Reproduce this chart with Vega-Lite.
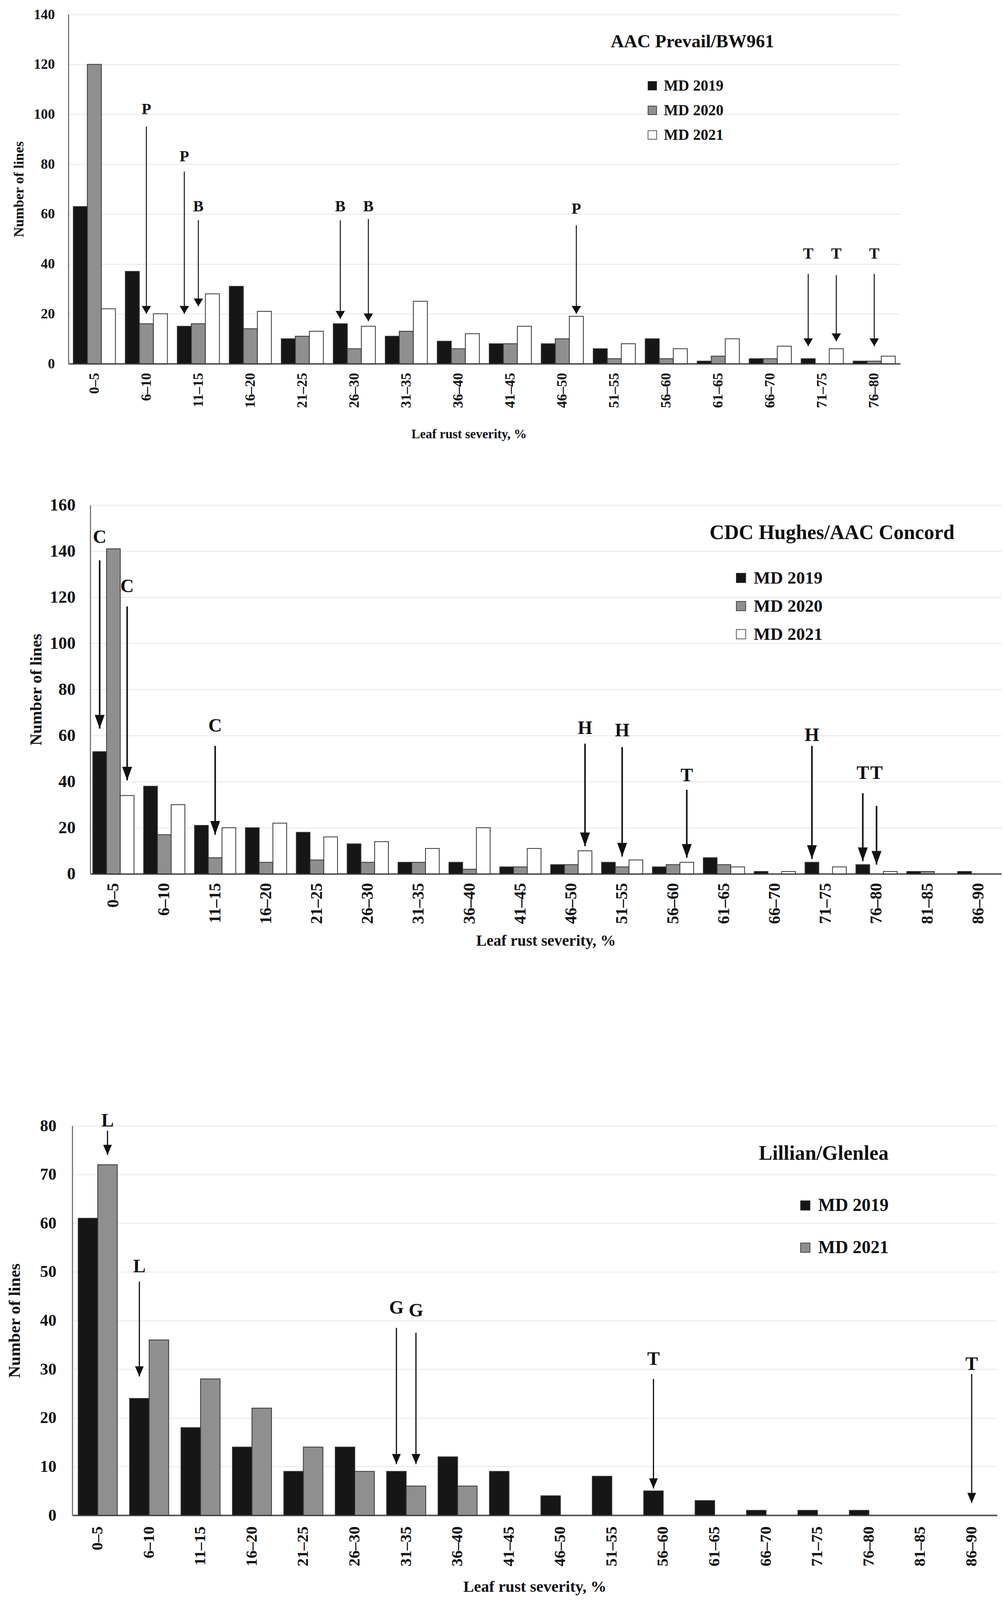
{
  "$schema": "https://vega.github.io/schema/vega-lite/v6.json",
  "background": "white",
  "padding": {"left": 15, "top": 18, "right": 5, "bottom": 5},
  "config": {
    "font": "Liberation Serif",
    "view": {"stroke": "transparent"},
    "axis": {"labelFontWeight": "bold", "titleFontWeight": "bold", "labelColor": "#111", "titleColor": "#111", "ticks": false, "gridColor": "#e6e6e6", "gridWidth": 2, "domainColor": "#777", "domainWidth": 3},
    "axisX": {"grid": false, "labelAngle": 270},
    "legend": {"labelFontWeight": "bold", "labelColor": "#111", "symbolType": "square", "symbolStrokeColor": "#222", "symbolStrokeWidth": 1.5, "labelOffset": 10, "labelLimit": 600}
  },
  "datasets": {
    "p1": [
      {"bin": "0–5", "series": "MD 2019", "count": 63}, {"bin": "0–5", "series": "MD 2020", "count": 120}, {"bin": "0–5", "series": "MD 2021", "count": 22},
      {"bin": "6–10", "series": "MD 2019", "count": 37}, {"bin": "6–10", "series": "MD 2020", "count": 16}, {"bin": "6–10", "series": "MD 2021", "count": 20},
      {"bin": "11–15", "series": "MD 2019", "count": 15}, {"bin": "11–15", "series": "MD 2020", "count": 16}, {"bin": "11–15", "series": "MD 2021", "count": 28},
      {"bin": "16–20", "series": "MD 2019", "count": 31}, {"bin": "16–20", "series": "MD 2020", "count": 14}, {"bin": "16–20", "series": "MD 2021", "count": 21},
      {"bin": "21–25", "series": "MD 2019", "count": 10}, {"bin": "21–25", "series": "MD 2020", "count": 11}, {"bin": "21–25", "series": "MD 2021", "count": 13},
      {"bin": "26–30", "series": "MD 2019", "count": 16}, {"bin": "26–30", "series": "MD 2020", "count": 6}, {"bin": "26–30", "series": "MD 2021", "count": 15},
      {"bin": "31–35", "series": "MD 2019", "count": 11}, {"bin": "31–35", "series": "MD 2020", "count": 13}, {"bin": "31–35", "series": "MD 2021", "count": 25},
      {"bin": "36–40", "series": "MD 2019", "count": 9}, {"bin": "36–40", "series": "MD 2020", "count": 6}, {"bin": "36–40", "series": "MD 2021", "count": 12},
      {"bin": "41–45", "series": "MD 2019", "count": 8}, {"bin": "41–45", "series": "MD 2020", "count": 8}, {"bin": "41–45", "series": "MD 2021", "count": 15},
      {"bin": "46–50", "series": "MD 2019", "count": 8}, {"bin": "46–50", "series": "MD 2020", "count": 10}, {"bin": "46–50", "series": "MD 2021", "count": 19},
      {"bin": "51–55", "series": "MD 2019", "count": 6}, {"bin": "51–55", "series": "MD 2020", "count": 2}, {"bin": "51–55", "series": "MD 2021", "count": 8},
      {"bin": "56–60", "series": "MD 2019", "count": 10}, {"bin": "56–60", "series": "MD 2020", "count": 2}, {"bin": "56–60", "series": "MD 2021", "count": 6},
      {"bin": "61–65", "series": "MD 2019", "count": 1}, {"bin": "61–65", "series": "MD 2020", "count": 3}, {"bin": "61–65", "series": "MD 2021", "count": 10},
      {"bin": "66–70", "series": "MD 2019", "count": 2}, {"bin": "66–70", "series": "MD 2020", "count": 2}, {"bin": "66–70", "series": "MD 2021", "count": 7},
      {"bin": "71–75", "series": "MD 2019", "count": 2}, {"bin": "71–75", "series": "MD 2021", "count": 6},
      {"bin": "76–80", "series": "MD 2019", "count": 1}, {"bin": "76–80", "series": "MD 2020", "count": 1}, {"bin": "76–80", "series": "MD 2021", "count": 3}
    ],
    "p1ann": [
      {"bin": "6–10", "series": "MD 2020", "top": 95, "tip": 20, "ly": 102, "label": "P"},
      {"bin": "11–15", "series": "MD 2019", "top": 77, "tip": 20, "ly": 83, "label": "P"},
      {"bin": "11–15", "series": "MD 2020", "top": 57.5, "tip": 23, "ly": 63, "label": "B"},
      {"bin": "26–30", "series": "MD 2019", "top": 57.5, "tip": 18, "ly": 63, "label": "B"},
      {"bin": "26–30", "series": "MD 2021", "top": 58, "tip": 17, "ly": 63, "label": "B"},
      {"bin": "46–50", "series": "MD 2021", "top": 55.5, "tip": 20, "ly": 62, "label": "P"},
      {"bin": "71–75", "series": "MD 2019", "top": 36, "tip": 7, "ly": 44, "label": "T"},
      {"bin": "71–75", "series": "MD 2021", "top": 35.5, "tip": 9, "ly": 44, "label": "T"},
      {"bin": "76–80", "series": "MD 2020", "top": 36, "tip": 7, "ly": 44, "label": "T"}
    ],
    "p2": [
      {"bin": "0–5", "series": "MD 2019", "count": 53}, {"bin": "0–5", "series": "MD 2020", "count": 141}, {"bin": "0–5", "series": "MD 2021", "count": 34},
      {"bin": "6–10", "series": "MD 2019", "count": 38}, {"bin": "6–10", "series": "MD 2020", "count": 17}, {"bin": "6–10", "series": "MD 2021", "count": 30},
      {"bin": "11–15", "series": "MD 2019", "count": 21}, {"bin": "11–15", "series": "MD 2020", "count": 7}, {"bin": "11–15", "series": "MD 2021", "count": 20},
      {"bin": "16–20", "series": "MD 2019", "count": 20}, {"bin": "16–20", "series": "MD 2020", "count": 5}, {"bin": "16–20", "series": "MD 2021", "count": 22},
      {"bin": "21–25", "series": "MD 2019", "count": 18}, {"bin": "21–25", "series": "MD 2020", "count": 6}, {"bin": "21–25", "series": "MD 2021", "count": 16},
      {"bin": "26–30", "series": "MD 2019", "count": 13}, {"bin": "26–30", "series": "MD 2020", "count": 5}, {"bin": "26–30", "series": "MD 2021", "count": 14},
      {"bin": "31–35", "series": "MD 2019", "count": 5}, {"bin": "31–35", "series": "MD 2020", "count": 5}, {"bin": "31–35", "series": "MD 2021", "count": 11},
      {"bin": "36–40", "series": "MD 2019", "count": 5}, {"bin": "36–40", "series": "MD 2020", "count": 2}, {"bin": "36–40", "series": "MD 2021", "count": 20},
      {"bin": "41–45", "series": "MD 2019", "count": 3}, {"bin": "41–45", "series": "MD 2020", "count": 3}, {"bin": "41–45", "series": "MD 2021", "count": 11},
      {"bin": "46–50", "series": "MD 2019", "count": 4}, {"bin": "46–50", "series": "MD 2020", "count": 4}, {"bin": "46–50", "series": "MD 2021", "count": 10},
      {"bin": "51–55", "series": "MD 2019", "count": 5}, {"bin": "51–55", "series": "MD 2020", "count": 3}, {"bin": "51–55", "series": "MD 2021", "count": 6},
      {"bin": "56–60", "series": "MD 2019", "count": 3}, {"bin": "56–60", "series": "MD 2020", "count": 4}, {"bin": "56–60", "series": "MD 2021", "count": 5},
      {"bin": "61–65", "series": "MD 2019", "count": 7}, {"bin": "61–65", "series": "MD 2020", "count": 4}, {"bin": "61–65", "series": "MD 2021", "count": 3},
      {"bin": "66–70", "series": "MD 2019", "count": 1}, {"bin": "66–70", "series": "MD 2021", "count": 1},
      {"bin": "71–75", "series": "MD 2019", "count": 5}, {"bin": "71–75", "series": "MD 2021", "count": 3},
      {"bin": "76–80", "series": "MD 2019", "count": 4}, {"bin": "76–80", "series": "MD 2021", "count": 1},
      {"bin": "81–85", "series": "MD 2019", "count": 1}, {"bin": "81–85", "series": "MD 2020", "count": 1},
      {"bin": "86–90", "series": "MD 2019", "count": 1}
    ],
    "p2ann": [
      {"bin": "0–5", "series": "MD 2019", "top": 136, "tip": 63, "ly": 146, "label": "C"},
      {"bin": "0–5", "series": "MD 2021", "top": 116, "tip": 40.5, "ly": 124.5, "label": "C"},
      {"bin": "11–15", "series": "MD 2020", "top": 55.5, "tip": 17, "ly": 64, "label": "C"},
      {"bin": "46–50", "series": "MD 2021", "top": 56.5, "tip": 12, "ly": 63, "label": "H"},
      {"bin": "51–55", "series": "MD 2020", "top": 55, "tip": 7.5, "ly": 62, "label": "H"},
      {"bin": "56–60", "series": "MD 2021", "top": 36.5, "tip": 7, "ly": 42.5, "label": "T"},
      {"bin": "71–75", "series": "MD 2019", "top": 55.5, "tip": 6.5, "ly": 60, "label": "H"},
      {"bin": "76–80", "series": "MD 2019", "top": 35, "tip": 5.5, "ly": 43.5, "label": "T"},
      {"bin": "76–80", "series": "MD 2020", "top": 29.5, "tip": 4, "ly": 43.5, "label": "T"}
    ],
    "p3": [
      {"bin": "0–5", "series": "MD 2019", "count": 61}, {"bin": "0–5", "series": "MD 2021", "count": 72},
      {"bin": "6–10", "series": "MD 2019", "count": 24}, {"bin": "6–10", "series": "MD 2021", "count": 36},
      {"bin": "11–15", "series": "MD 2019", "count": 18}, {"bin": "11–15", "series": "MD 2021", "count": 28},
      {"bin": "16–20", "series": "MD 2019", "count": 14}, {"bin": "16–20", "series": "MD 2021", "count": 22},
      {"bin": "21–25", "series": "MD 2019", "count": 9}, {"bin": "21–25", "series": "MD 2021", "count": 14},
      {"bin": "26–30", "series": "MD 2019", "count": 14}, {"bin": "26–30", "series": "MD 2021", "count": 9},
      {"bin": "31–35", "series": "MD 2019", "count": 9}, {"bin": "31–35", "series": "MD 2021", "count": 6},
      {"bin": "36–40", "series": "MD 2019", "count": 12}, {"bin": "36–40", "series": "MD 2021", "count": 6},
      {"bin": "41–45", "series": "MD 2019", "count": 9},
      {"bin": "46–50", "series": "MD 2019", "count": 4},
      {"bin": "51–55", "series": "MD 2019", "count": 8},
      {"bin": "56–60", "series": "MD 2019", "count": 5},
      {"bin": "61–65", "series": "MD 2019", "count": 3},
      {"bin": "66–70", "series": "MD 2019", "count": 1},
      {"bin": "71–75", "series": "MD 2019", "count": 1},
      {"bin": "76–80", "series": "MD 2019", "count": 1}
    ],
    "p3ann": [
      {"bin": "0–5", "series": "MD 2021", "top": 79, "tip": 74, "ly": 81, "label": "L"},
      {"bin": "6–10", "series": "MD 2019", "top": 48, "tip": 28.5, "ly": 51, "label": "L"},
      {"bin": "31–35", "series": "MD 2019", "top": 38.5, "tip": 10.5, "ly": 42.5, "label": "G"},
      {"bin": "31–35", "series": "MD 2021", "top": 37.5, "tip": 10.5, "ly": 42, "label": "G"},
      {"bin": "56–60", "series": "MD 2019", "top": 28, "tip": 5.5, "ly": 32, "label": "T"},
      {"bin": "86–90", "series": "both", "top": 29, "tip": 2.5, "ly": 31, "label": "T"}
    ]
  },
  "spacing": 141,
  "resolve": {"scale": {"fill": "independent", "x": "independent", "y": "independent", "xOffset": "independent"}, "legend": {"fill": "independent"}},
  "vconcat": [
    {
      "width": 2129,
      "height": 894,
      "title": {"text": "AAC Prevail/BW961", "anchor": "start", "frame": "group", "dx": 1388, "offset": -135, "baseline": "middle", "fontSize": 47, "fontWeight": "bold", "color": "#111"},
      "layer": [
        {
          "data": {"name": "p1"},
          "mark": {"type": "bar", "stroke": "#333", "strokeWidth": 2},
          "encoding": {
            "x": {"field": "bin", "type": "nominal", "title": "Leaf rust severity, %",
              "scale": {"domain": ["0–5","6–10","11–15","16–20","21–25","26–30","31–35","36–40","41–45","46–50","51–55","56–60","61–65","66–70","71–75","76–80"], "paddingInner": 0.19, "paddingOuter": 0.095},
              "axis": {"labelFontSize": 36, "labelPadding": 23, "titleFontSize": 33, "titlePadding": 51, "titleX": 1025, "domainColor": "#555", "domainWidth": 4}},
            "xOffset": {"field": "series", "type": "nominal", "scale": {"domain": ["MD 2019", "MD 2020", "MD 2021"]}},
            "y": {"field": "count", "type": "quantitative", "title": "Number of lines",
              "scale": {"domain": [0, 140]},
              "axis": {"values": [0, 20, 40, 60, 80, 100, 120, 140], "labelFontSize": 36, "labelPadding": 35, "titleFontSize": 36, "titlePadding": 19}},
            "fill": {"field": "series", "type": "nominal",
              "scale": {"domain": ["MD 2019", "MD 2020", "MD 2021"], "range": ["#161616", "#8f8f8f", "#ffffff"]},
              "legend": {"orient": "none", "legendX": 1475, "legendY": 163, "title": null, "labelFontSize": 39, "symbolSize": 484, "rowPadding": 23}}
          }
        },
        {
          "data": {"name": "p1ann"},
          "mark": {"type": "rule", "stroke": "#111", "strokeWidth": 2.5},
          "encoding": {
            "x": {"field": "bin", "type": "nominal", "title": "Leaf rust severity, %"},
            "xOffset": {"field": "series", "type": "nominal"},
            "y": {"field": "top", "type": "quantitative", "title": "Number of lines"},
            "y2": {"field": "tip"}
          }
        },
        {
          "data": {"name": "p1ann"},
          "mark": {"type": "point", "shape": "M-0.6,-1L0.6,-1L0,0Z", "size": 1600, "filled": true, "color": "#111", "opacity": 1},
          "encoding": {
            "x": {"field": "bin", "type": "nominal", "title": "Leaf rust severity, %"},
            "xOffset": {"field": "series", "type": "nominal"},
            "y": {"field": "tip", "type": "quantitative", "title": "Number of lines"}
          }
        },
        {
          "data": {"name": "p1ann"},
          "mark": {"type": "text", "fontSize": 40, "fontWeight": "bold", "color": "#111", "baseline": "middle"},
          "encoding": {
            "x": {"field": "bin", "type": "nominal", "title": "Leaf rust severity, %"},
            "xOffset": {"field": "series", "type": "nominal"},
            "y": {"field": "ly", "type": "quantitative", "title": "Number of lines"},
            "text": {"field": "label"}
          }
        }
      ]
    },
    {
      "width": 2388,
      "height": 944,
      "title": {"text": "CDC Hughes/AAC Concord", "anchor": "start", "frame": "group", "dx": 1641, "offset": -145, "baseline": "middle", "fontSize": 52, "fontWeight": "bold", "color": "#111"},
      "layer": [
        {
          "data": {"name": "p2"},
          "mark": {"type": "bar", "stroke": "#333", "strokeWidth": 2},
          "encoding": {
            "x": {"field": "bin", "type": "nominal", "title": "Leaf rust severity, %",
              "scale": {"domain": ["0–5","6–10","11–15","16–20","21–25","26–30","31–35","36–40","41–45","46–50","51–55","56–60","61–65","66–70","71–75","76–80","81–85","86–90"], "range": [56, 2388], "paddingInner": 0.19, "paddingOuter": 0.05},
              "axis": {"labelFontSize": 42, "labelPadding": 23, "titleFontSize": 40, "titlePadding": 23, "domainColor": "#555", "domainWidth": 4}},
            "xOffset": {"field": "series", "type": "nominal", "scale": {"domain": ["MD 2019", "MD 2020", "MD 2021"]}},
            "y": {"field": "count", "type": "quantitative", "title": "Number of lines",
              "scale": {"domain": [0, 160]},
              "axis": {"values": [0, 20, 40, 60, 80, 100, 120, 140, 160], "offset": -56, "labelFontSize": 44, "labelPadding": 38, "titleFontSize": 42, "titlePadding": 13}},
            "fill": {"field": "series", "type": "nominal",
              "scale": {"domain": ["MD 2019", "MD 2020", "MD 2021"], "range": ["#161616", "#8f8f8f", "#ffffff"]},
              "legend": {"orient": "none", "legendX": 1699, "legendY": 164, "title": null, "labelFontSize": 45, "symbolSize": 576, "rowPadding": 26}}
          }
        },
        {
          "data": {"name": "p2ann"},
          "mark": {"type": "rule", "stroke": "#111", "strokeWidth": 4},
          "encoding": {
            "x": {"field": "bin", "type": "nominal", "title": "Leaf rust severity, %"},
            "xOffset": {"field": "series", "type": "nominal"},
            "y": {"field": "top", "type": "quantitative", "title": "Number of lines"},
            "y2": {"field": "tip"}
          }
        },
        {
          "data": {"name": "p2ann"},
          "mark": {"type": "point", "shape": "M-0.36,-1L0.36,-1L0,0Z", "size": 4900, "filled": true, "color": "#111", "opacity": 1},
          "encoding": {
            "x": {"field": "bin", "type": "nominal", "title": "Leaf rust severity, %"},
            "xOffset": {"field": "series", "type": "nominal"},
            "y": {"field": "tip", "type": "quantitative", "title": "Number of lines"}
          }
        },
        {
          "data": {"name": "p2ann"},
          "mark": {"type": "text", "fontSize": 48, "fontWeight": "bold", "color": "#111", "baseline": "middle"},
          "encoding": {
            "x": {"field": "bin", "type": "nominal", "title": "Leaf rust severity, %"},
            "xOffset": {"field": "series", "type": "nominal"},
            "y": {"field": "ly", "type": "quantitative", "title": "Number of lines"},
            "text": {"field": "label"}
          }
        }
      ]
    },
    {
      "width": 2377,
      "height": 1308,
      "title": {"text": "Lillian/Glenlea", "anchor": "start", "frame": "group", "dx": 1767, "offset": -434, "baseline": "middle", "fontSize": 52, "fontWeight": "bold", "color": "#111"},
      "layer": [
        {
          "data": {"name": "p3"},
          "mark": {"type": "bar", "stroke": "#333", "strokeWidth": 2},
          "encoding": {
            "x": {"field": "bin", "type": "nominal", "title": "Leaf rust severity, %",
              "scale": {"domain": ["0–5","6–10","11–15","16–20","21–25","26–30","31–35","36–40","41–45","46–50","51–55","56–60","61–65","66–70","71–75","76–80","81–85","86–90"], "range": [10, 2377], "paddingInner": 0.24, "paddingOuter": 0.115},
              "axis": {"labelFontSize": 41, "labelPadding": 28, "titleFontSize": 41, "titlePadding": 33, "domainColor": "#555", "domainWidth": 4}},
            "xOffset": {"field": "series", "type": "nominal", "scale": {"domain": ["MD 2019", "MD 2021"]}},
            "y": {"field": "count", "type": "quantitative", "title": "Number of lines",
              "scale": {"domain": [0, 80], "range": [1308, 311]},
              "axis": {"values": [0, 10, 20, 30, 40, 50, 60, 70, 80], "offset": -10, "labelFontSize": 42, "labelPadding": 41, "titleFontSize": 43, "titlePadding": 43}},
            "fill": {"field": "series", "type": "nominal",
              "scale": {"domain": ["MD 2019", "MD 2021"], "range": ["#161616", "#8f8f8f"]},
              "legend": {"orient": "none", "legendX": 1863, "legendY": 492, "title": null, "labelFontSize": 46, "symbolSize": 576, "rowPadding": 62}}
          }
        },
        {
          "data": {"name": "p3ann"},
          "transform": [{"filter": "datum.series !== 'both'"}],
          "mark": {"type": "rule", "stroke": "#111", "strokeWidth": 3},
          "encoding": {
            "x": {"field": "bin", "type": "nominal", "title": "Leaf rust severity, %"},
            "xOffset": {"field": "series", "type": "nominal"},
            "y": {"field": "top", "type": "quantitative", "title": "Number of lines"},
            "y2": {"field": "tip"}
          }
        },
        {
          "data": {"name": "p3ann"},
          "transform": [{"filter": "datum.series !== 'both'"}],
          "mark": {"type": "point", "shape": "M-0.43,-1L0.43,-1L0,0Z", "size": 2700, "filled": true, "color": "#111", "opacity": 1},
          "encoding": {
            "x": {"field": "bin", "type": "nominal", "title": "Leaf rust severity, %"},
            "xOffset": {"field": "series", "type": "nominal"},
            "y": {"field": "tip", "type": "quantitative", "title": "Number of lines"}
          }
        },
        {
          "data": {"name": "p3ann"},
          "transform": [{"filter": "datum.series !== 'both'"}],
          "mark": {"type": "text", "fontSize": 48, "fontWeight": "bold", "color": "#111", "baseline": "middle"},
          "encoding": {
            "x": {"field": "bin", "type": "nominal", "title": "Leaf rust severity, %"},
            "xOffset": {"field": "series", "type": "nominal"},
            "y": {"field": "ly", "type": "quantitative", "title": "Number of lines"},
            "text": {"field": "label"}
          }
        },
        {
          "data": {"name": "p3ann"},
          "transform": [{"filter": "datum.series === 'both'"}],
          "mark": {"type": "rule", "stroke": "#111", "strokeWidth": 3},
          "encoding": {
            "x": {"field": "bin", "type": "nominal", "title": "Leaf rust severity, %"},
            "y": {"field": "top", "type": "quantitative", "title": "Number of lines"},
            "y2": {"field": "tip"}
          }
        },
        {
          "data": {"name": "p3ann"},
          "transform": [{"filter": "datum.series === 'both'"}],
          "mark": {"type": "point", "shape": "M-0.43,-1L0.43,-1L0,0Z", "size": 2700, "filled": true, "color": "#111", "opacity": 1},
          "encoding": {
            "x": {"field": "bin", "type": "nominal", "title": "Leaf rust severity, %"},
            "y": {"field": "tip", "type": "quantitative", "title": "Number of lines"}
          }
        },
        {
          "data": {"name": "p3ann"},
          "transform": [{"filter": "datum.series === 'both'"}],
          "mark": {"type": "text", "fontSize": 48, "fontWeight": "bold", "color": "#111", "baseline": "middle"},
          "encoding": {
            "x": {"field": "bin", "type": "nominal", "title": "Leaf rust severity, %"},
            "y": {"field": "ly", "type": "quantitative", "title": "Number of lines"},
            "text": {"field": "label"}
          }
        }
      ]
    }
  ]
}
